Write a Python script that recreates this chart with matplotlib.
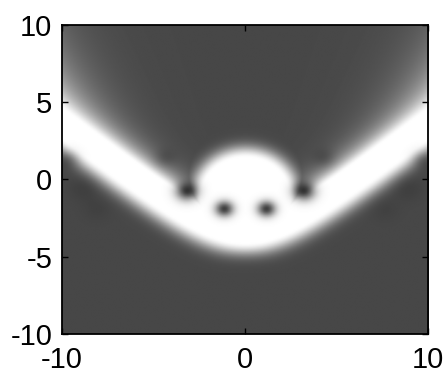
import numpy as np
import matplotlib.pyplot as plt

plt.rcParams['font.family'] = ['Liberation Sans', 'DejaVu Sans']
plt.rcParams['axes.unicode_minus'] = False

# curved bright band: y = c + sqrt(h^2 + (m*x)^2)
band_c = -5.9
band_h = 2.5
band_m = 0.92
band_half = 0.7          # half width of the saturated part
band_tail_below = 0.8
# upper side: quick fall-off plus a faint wide fan towards the sides
band_fast = 0.55
band_fan = [0.7, 2.4]    # strength at |x| = 10, decay length

# bright dome in the middle
blob_center = [0.0, -1.2]
blob_axes = [2.4, 2.6]
blob_tail = 0.8

# dark spots: x, y, depth, radius
dot_x = [-1.15, 1.15, -3.2, 3.2, -4.4, 4.3, -9.7, 9.7, -8.8, 8.85, -8.1, 7.6]
dot_y = [-1.9, -1.9, -0.75, -0.75, 1.4, 1.4, 1.3, 1.3, -0.55, -0.55, -1.9, -1.9]
dot_depth = [0.75, 0.75, 0.75, 0.75, 0.2, 0.2, 0.25, 0.25, 0.12, 0.12, 0.08, 0.08]
dot_size = [0.5, 0.5, 0.6, 0.6, 0.6, 0.6, 0.6, 0.6, 0.8, 0.8, 0.8, 0.8]

floor_level = 0.28

n = 500
xs = np.linspace(-10, 10, n)
ys = np.linspace(-10, 10, n)
X, Y = np.meshgrid(xs, ys)

root = np.sqrt(band_h**2 + (band_m * X)**2)
yc = band_c + root
slope = band_m**2 * X / root
s = (Y - yc) / np.sqrt(1 + slope**2)
edge = np.maximum(np.abs(s) - band_half, 0)
# soft shoulder at the edge of the saturated part
edge_soft = np.sqrt(edge**2 + 0.3**2) - 0.3
f = band_fan[0] * np.abs(X / 10)**3
b_up = (1 - f) * np.exp(-edge_soft / band_fast) + f * np.exp(-edge_soft / band_fan[1])
b_band = np.where(s > 0, b_up, np.exp(-(edge / band_tail_below)**2))

rho = np.sqrt(((X - blob_center[0]) / blob_axes[0])**2 + ((Y - blob_center[1]) / blob_axes[1])**2)
d_blob = np.maximum(rho - 1, 0) * blob_axes[1]
b_blob = np.exp(-(d_blob / blob_tail)**2)

b = np.maximum(b_band, b_blob)
Z = floor_level + (1 - floor_level) * b
for dx, dy, dd, ds in zip(dot_x, dot_y, dot_depth, dot_size):
    Z = Z * (1 - dd * np.exp(-((X - dx)**2 + (Y - dy)**2) / ds**2))

fig = plt.figure(figsize=(4.44, 3.73), dpi=100)
ax = fig.add_axes([0.1396, 0.1046, 0.8244, 0.8284])
ax.imshow(Z, cmap='gray', vmin=0, vmax=1, origin='lower', extent=[-10, 10, -10, 10],
          aspect='auto', interpolation='bilinear')
ax.set_xlim(-10, 10)
ax.set_ylim(-10, 10)
ax.set_xticks([-10, 0, 10])
ax.set_yticks([-10, -5, 0, 5, 10])
ax.tick_params(direction='in', length=4, width=1, labelsize=21, top=True, right=True)
ax.tick_params(axis='x', pad=9)
ax.tick_params(axis='y', pad=7)
for sp in ax.spines.values():
    sp.set_linewidth(1.3)

fig.savefig('out.png', dpi=100)
